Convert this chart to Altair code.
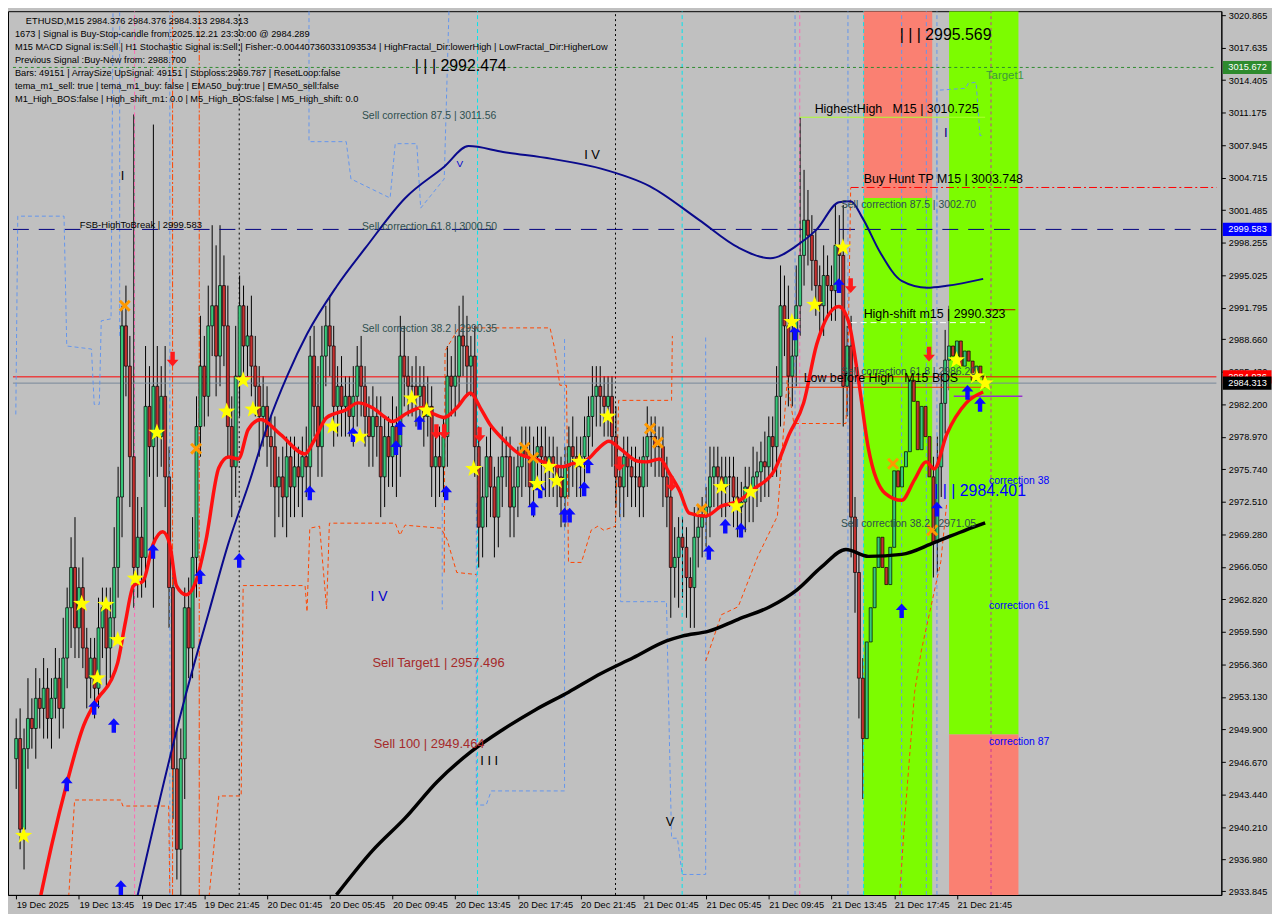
import altair as alt
import pandas as pd

W, H = 1222, 890
X_DOM = [-0.825, 306.2]
Y_DOM = [2933.47, 3021.26]

# ---------------- axis labels ----------------
time_ticks = [0, 16, 32, 48, 64, 80, 96, 112, 128, 144, 160, 176, 192, 208, 224, 240]
time_labels = ["19 Dec 2025", "19 Dec 13:45", "19 Dec 17:45", "19 Dec 21:45", "20 Dec 01:45",
               "20 Dec 05:45", "20 Dec 09:45", "20 Dec 13:45", "20 Dec 17:45", "20 Dec 21:45",
               "21 Dec 01:45", "21 Dec 05:45", "21 Dec 09:45", "21 Dec 13:45", "21 Dec 17:45",
               "21 Dec 21:45"]
price_ticks = [3020.865, 3017.635, 3014.405, 3011.175, 3007.945, 3004.715, 3001.485, 2998.255,
               2995.025, 2991.795, 2988.660, 2985.430, 2982.200, 2978.970, 2975.740, 2972.510,
               2969.280, 2966.050, 2962.820, 2959.590, 2956.360, 2953.130, 2949.900, 2946.670,
               2943.440, 2940.210, 2936.980, 2933.845]

# ---------------- candles (M15 bars) ----------------
first_open = 2947.0
close = [
    2949, 2940, 2948, 2951, 2950, 2953, 2952, 2954, 2951, 2953,
    2955, 2952, 2957, 2962, 2966, 2960, 2964, 2958, 2955, 2957,
    2954, 2960, 2962, 2958, 2961, 2966, 2973, 2990, 2986, 2977,
    2966, 2969, 2967, 2982, 2978, 2984, 2979, 2983, 2975, 2964,
    2946, 2938, 2947, 2962, 2958, 2967, 2980, 2986, 2983, 2990,
    2992, 2987, 2994, 2990, 2980, 2976, 2985, 2992, 2988, 2989,
    2986, 2984, 2981, 2982, 2979, 2978, 2974, 2975, 2973, 2977,
    2974, 2976, 2975, 2977, 2976, 2987, 2982, 2978, 2987, 2990,
    2988, 2982, 2984, 2982, 2983, 2981, 2983, 2986, 2984, 2981,
    2979, 2981, 2980, 2975, 2979, 2977, 2980, 2978, 2987, 2985,
    2984, 2984, 2983, 2984, 2981, 2982, 2976, 2977, 2976, 2979,
    2985, 2984, 2985, 2989, 2988, 2986, 2987, 2978, 2970, 2973,
    2977, 2974, 2971, 2975, 2977, 2977, 2972, 2974, 2976, 2978,
    2977, 2974, 2977, 2978, 2977, 2976, 2977, 2976, 2975, 2973,
    2976, 2978, 2977, 2976, 2977, 2979, 2981, 2983, 2984, 2983,
    2982, 2983, 2979, 2975, 2974, 2977, 2976, 2975, 2975, 2974,
    2977, 2979, 2979, 2978, 2978, 2975, 2973, 2966, 2967, 2969,
    2968, 2965, 2964, 2969, 2970, 2971, 2972, 2975, 2976, 2975,
    2974, 2975, 2975, 2973, 2972, 2972.5, 2974, 2973.5, 2975, 2975.5,
    2976.5, 2976, 2979, 2978, 2983, 2992, 2990, 2985, 2987, 2992,
    2997, 3000.5, 2999, 2996.5, 2994, 2992, 2995, 2994, 2993.5, 2998,
    2997, 2984, 2988, 2971, 2965.5, 2955, 2949, 2958.6, 2962, 2966,
    2969, 2966, 2964.3, 2968, 2975.6, 2974, 2976, 2977.5, 2984.6, 2982.5,
    2977.7, 2982, 2979, 2975, 2968.5, 2976, 2982.3, 2986.6, 2988, 2987,
    2988.5, 2986, 2987.5, 2986.5, 2984.6, 2986, 2985, 2984.313,
]
upper_wick = [
    2, 3, 2, 4, 2, 3, 2, 3, 2, 2,
    3, 2, 4, 2, 3, 5, 2, 3, 2, 2,
    2, 3, 2, 2, 3, 4, 3, 2, 4, 3,
    34, 4, 3, 6, 4, 26, 4, 3, 5, 3,
    2, 4, 3, 2, 3, 4, 3, 5, 3, 4,
    8, 6, 6, 3, 4, 3, 5, 3, 2, 3,
    4, 3, 2, 3, 2, 2, 3, 2, 3, 2,
    2, 3, 2, 2, 3, 2, 3, 4, 3, 2,
    3, 2, 2, 3, 2, 2, 3, 2, 3, 2,
    2, 3, 2, 3, 2, 2, 3, 2, 4, 3,
    2, 2, 3, 2, 2, 3, 2, 2, 3, 2,
    3, 2, 4, 3, 4, 3, 2, 3, 2, 3,
    2, 3, 2, 2, 3, 2, 2, 3, 2, 2,
    2, 3, 2, 2, 2, 3, 2, 2, 2, 2,
    2, 2, 3, 2, 2, 2, 2, 3, 2, 2,
    2, 2, 2, 3, 2, 2, 2, 2, 3, 2,
    2, 3, 2, 2, 2, 2, 2, 2, 3, 2,
    2, 2, 2, 3, 2, 2, 2, 3, 2, 2,
    2, 2, 2, 2, 2, 2, 2, 2, 3, 2,
    2, 3, 2, 2, 3, 4, 3, 4, 3, 4,
    13.7, 5, 3, 2, 3, 2, 3, 2, 2, 4,
    3, 5, 2, 3, 2, 2, 2, 3, 2, 3,
    3, 3, 2, 3, 4, 3, 3, 4, 3, 2,
    2, 3, 2, 3, 2, 3, 3, 3, 4, 3,
    4, 3, 3, 2, 3, 2, 2, 0.1,
]
lower_wick = [
    3, 2, 4, 2, 2, 3, 2, 3, 2, 3,
    2, 3, 2, 3, 4, 3, 3, 2, 3, 2,
    3, 2, 3, 4, 3, 2, 3, 4, 3, 5,
    4, 3, 4, 3, 3, 16, 4, 3, 3, 4,
    5, 3, 5, 4, 3, 3, 4, 3, 3, 2,
    3, 4, 3, 4, 3, 5, 3, 4, 3, 3,
    3, 3, 4, 3, 3, 4, 5, 3, 3, 4,
    3, 3, 3, 4, 3, 3, 3, 3, 3, 3,
    3, 4, 3, 3, 3, 2, 3, 3, 3, 3,
    3, 3, 3, 4, 3, 3, 3, 5, 3, 3,
    3, 3, 3, 3, 3, 2, 3, 4, 3, 3,
    3, 3, 3, 3, 3, 3, 3, 3, 4, 3,
    3, 3, 4, 3, 3, 3, 3, 3, 3, 3,
    3, 2, 3, 3, 3, 3, 3, 3, 3, 3,
    3, 3, 3, 3, 3, 3, 3, 3, 3, 3,
    3, 3, 3, 3, 3, 3, 3, 3, 3, 3,
    3, 3, 3, 3, 3, 3, 3, 5, 3, 5,
    5, 4, 4, 4, 3, 3, 3, 3, 3, 3,
    3, 3, 3, 3, 3, 3, 3, 3, 3, 3,
    3, 3, 3, 3, 3, 3, 3, 3, 3, 3,
    3, 3, 3, 3, 3, 3, 3, 3, 3, 3,
    3, 4, 3, 4, 4, 4, 6, 4, 8, 6,
    5, 4, 5, 4, 4, 4, 4, 4, 4, 4,
    4, 4, 4, 4, 3.5, 3, 3, 3, 3, 3,
    3, 3, 3, 3, 3, 3, 3, 0.1,
]

# ---------------- moving averages (bar, price) ----------------
red_bar = [6.2, 9.2, 12.9, 17.2, 20.9, 24.2, 25.9, 27.9, 29.9, 32.4, 34.9, 37.4, 39.2, 40.9, 43.4,
           45.9, 48.4, 51.7, 54.2, 56.7, 59.2, 62.4, 67.4, 73.7, 75.9, 79.2, 84.2, 87.2, 90.9,
           94.2, 95.9, 99.9, 103.4, 105.9, 109.2, 112.4, 115.9, 118.4, 120.9, 124.2, 128.4,
           132.4, 135.9, 139.2, 141.7, 145.9, 148.4, 151.2, 154.2, 158.4, 160.9, 164.2, 166.7,
           169.2, 171.7, 175.9, 179.9, 184.2, 188.4, 193.4, 197.2, 200.9, 204.2, 209.9, 212.4,
           214.9, 217.4, 221.7, 225.9, 229.2, 232.2, 234.2, 237.4, 242.4, 246.7]
red_p = [2933.28, 2938.66, 2944.52, 2950.29, 2953.03, 2954.78, 2956.55, 2960.65, 2964.17, 2964.66,
         2968.27, 2969.55, 2968.27, 2964.17, 2963.29, 2964.66, 2968.66, 2975.90, 2976.97, 2976.78,
         2979.71, 2980.69, 2979.22, 2977.27, 2978.54, 2980.89, 2981.67, 2982.35, 2981.86, 2980.89,
         2980.49, 2981.37, 2981.86, 2981.37, 2980.89, 2981.86, 2983.33, 2981.86, 2980.20, 2978.73,
         2977.27, 2976.78, 2976.29, 2976.00, 2976.29, 2976.78, 2977.76, 2978.54, 2977.76, 2976.58,
         2976.49, 2976.78, 2975.31, 2973.65, 2971.40, 2971.11, 2972.09, 2972.58, 2973.85, 2975.61,
         2979.22, 2982.35, 2988.12, 2991.93, 2990.37, 2984.60, 2977.86, 2973.36, 2972.67, 2974.73,
         2976.49, 2975.80, 2979.22, 2982.35, 2983.43]

navy_bar = [30.9, 36.7, 42.9, 49.2, 54.2, 59.2, 64.2, 69.2, 74.2, 81.7, 89.2, 99.2, 109.2, 115.4,
            124.2, 136.7, 149.2, 161.7, 174.2, 184.2, 192.4, 199.2, 204.2, 209.9, 212.9, 215.9,
            220.4, 225.9, 232.4, 237.4, 246.7]
navy_p = [2933.28, 2943.06, 2952.83, 2961.63, 2968.47, 2974.14, 2980.20, 2985.09, 2989.19, 2993.89,
          2997.79, 3002.68, 3005.81, 3007.86, 3007.28, 3006.59, 3005.62, 3003.86, 3000.53, 2997.79,
          2996.72, 2997.99, 2999.56, 3002.29, 3002.39, 3000.73, 2997.31, 2994.47, 2993.79, 2993.98,
          2994.67]

black_bar = [81.7, 90.9, 99.2, 107.4, 115.9, 124.2, 132.4, 140.9, 149.2, 157.4, 165.9, 169.9, 176.7,
             184.2, 192.4, 199.2, 205.4, 211.7, 217.4, 225.9, 234.2, 242.4, 247.2]
black_p = [2933.47, 2937.87, 2941.10, 2944.72, 2947.65, 2949.90, 2951.85, 2953.61, 2955.47, 2957.03,
           2958.70, 2959.18, 2959.67, 2960.85, 2962.12, 2963.78, 2966.03, 2967.79, 2967.10, 2967.30,
           2968.47, 2969.74, 2970.43]

# ---------------- dashed step lines (bar, price) ----------------
step_lines = [
    ("#6495ed", [-0.1, 0.4, 12.2, 12.9, 19.2, 19.9, 21.2, 21.7, 24.2, 24.7],
                [2981.2, 3000.9, 3000.9, 2988.0, 2987.7, 2982.2, 2982.2, 2990.5, 2990.7, 3021.2]),
    ("#6495ed", [74.7, 74.7, 84.2, 85.4, 95.4, 96.7, 102.2, 103.2, 109.2, 110.4],
                [3021.26, 3008.3, 3008.3, 3004.6, 3002.7, 3008.1, 3008.1, 3001.7, 3004.6, 3021.26]),
    ("#6495ed", [108.7, 108.7], [2972.4, 2961.8]),
    ("#6495ed", [117.4, 117.4, 119.9, 121.2, 139.9, 139.9],
                [2972.4, 2942.4, 2942.4, 2943.8, 2943.8, 2988.9]),
    ("#6495ed", [154.2, 154.2, 165.9, 166.7, 167.2, 168.7, 169.9, 175.9, 175.9],
                [2972.4, 2962.6, 2962.6, 2947.9, 2939.1, 2939.1, 2935.5, 2935.5, 2988.9]),
    ("#6495ed", [234.9, 234.9, 242.2, 242.9, 244.9, 245.4, 245.9, 246.9],
                [2998.5, 3013.4, 3013.6, 3014.1, 3014.2, 3011.5, 3008.9, 3008.9]),
    ("#ff4500", [13.4, 14.9, 26.7, 27.2, 38.9, 39.2],
                [2933.3, 2942.9, 2942.9, 2942.3, 2942.3, 2933.3]),
    ("#ff4500", [49.2, 51.7, 57.4, 57.9, 73.7, 74.2, 74.9, 77.4, 79.2, 79.9, 96.7, 97.9, 99.2,
                 108.4, 109.9, 112.4, 117.4],
                [2933.3, 2943.3, 2943.3, 2964.2, 2964.2, 2961.6, 2969.9, 2970.1, 2961.9, 2970.4,
                 2970.4, 2969.2, 2970.2, 2969.9, 2968.8, 2965.5, 2965.3]),
    ("#ff4500", [109.2, 109.4, 112.9, 136.2, 137.4, 138.7, 140.4, 140.9, 144.2, 146.7, 148.4,
                 149.9, 152.9, 153.7, 167.2, 167.4],
                [2965.5, 2987.5, 2989.8, 2989.8, 2987.7, 2984.1, 2984.1, 2966.5, 2966.5, 2969.7,
                 2970.1, 2969.7, 2970.1, 2982.6, 2982.6, 2989.0]),
    ("#ff4500", [175.9, 179.9, 184.2, 189.2, 194.2, 196.7, 198.4, 211.7, 212.2, 212.9],
                [2956.7, 2961.3, 2962.1, 2967.1, 2971.1, 2984.6, 2980.3, 2980.3, 2986.4, 3003.7]),
    ("#ff4500", [225.4, 226.7, 229.2, 230.9, 235.9, 237.4],
                [2933.5, 2941.1, 2953.6, 2957.7, 2966.6, 2972.4]),
]

# ---------------- vertical marker lines ----------------
vlines = [  # bar, low, high, colour, dash
    (26.4, 2989.0, 3021.26, "#6495ed", [4, 3]),
    (30.2, 2933.47, 3021.26, "#ff69b4", [4, 3]),
    (39.2, 2933.47, 3021.26, "#6495ed", [4, 3]),
    (39.9, 2933.47, 3021.26, "#ff4500", [6, 2, 2, 2]),
    (46.7, 2933.47, 3021.26, "#ff4500", [6, 2, 2, 2]),
    (56.9, 2933.47, 3021.26, "#000000", [2, 3]),
    (117.7, 2933.47, 3021.26, "#00e5ee", [4, 3]),
    (152.9, 2933.47, 3021.26, "#000000", [2, 3]),
    (169.9, 2933.47, 3021.26, "#00e5ee", [4, 3]),
    (198.7, 2933.47, 3021.26, "#6495ed", [4, 3]),
    (199.9, 2933.47, 3021.26, "#ff69b4", [4, 3]),
    (212.2, 2933.47, 3021.26, "#6495ed", [4, 3]),
    (216.2, 2933.47, 3021.26, "#00e5ee", [4, 3]),
    (225.9, 2933.47, 3021.26, "#6495ed", [4, 3]),
    (232.2, 2933.47, 3021.26, "#6495ed", [4, 3]),
    (234.9, 2933.47, 3021.26, "#6495ed", [4, 3]),
    (248.7, 2933.47, 3021.26, "#cc3399", [3, 3]),
]

# ---------------- horizontal levels ----------------
hlines = [  # price, bar from, bar to, colour, dash, width
    (3015.672, -0.825, 306.2, "#2e8b2e", [3, 3], 1),
    (2999.583, -0.825, 306.2, "#000080", [16, 10], 1),
    (3003.748, 212.9, 306.2, "#ff0000", [8, 3, 2, 3], 1),
    (2990.323, 212.9, 247.2, "#ffffff", [6, 4], 1),
    (3010.725, 199.9, 247.2, "#adff2f", [], 1),
    (2984.936, -0.825, 306.2, "#ff0000", [], 1),
    (2984.313, -0.825, 306.2, "#778899", [], 1),
    (2983.900, 196.7, 247.2, "#ff3300", [], 1),
    (2983.000, 239.2, 256.7, "#9932cc", [], 1.5),
    (2991.600, 247.4, 254.9, "#cc0000", [], 1),
]

# ---------------- zones ----------------
zones = [  # bar from, bar to, price low, price high, colour
    (216.2, 233.7, 3002.7, 3021.26, "#fa8072"),
    (216.2, 233.7, 2933.47, 3002.7, "#7cfc00"),
    (238.0, 255.7, 2949.4, 3021.26, "#7cfc00"),
    (238.0, 255.7, 2933.47, 2949.4, "#fa8072"),
]

# ---------------- signal markers ----------------
star_bar = [1.9, 16.7, 22.9, 20.7, 25.9, 30.4, 35.9, 53.7, 57.9, 60.4, 80.7, 87.7, 100.9, 104.7,
            116.7, 132.9, 135.9, 137.9, 143.7, 150.9, 179.9, 183.7, 187.4, 197.9, 203.7, 210.9,
            239.9, 244.9, 247.2]
star_p = [2939.35, 2962.4, 2962.3, 2955.0, 2958.8, 2964.9, 2979.4, 2981.5, 2984.6, 2981.7, 2980.0,
          2979.0, 2982.8, 2981.6, 2975.8, 2974.3, 2976.0, 2974.6, 2976.5, 2981.0, 2974.0, 2972.1,
          2973.5, 2990.4, 2992.1, 2997.8, 2986.6, 2985.0, 2984.3]
up_bar = [12.9, 19.9, 24.9, 34.9, 46.9, 56.9, 26.7, 74.9, 85.9, 96.9, 97.9, 102.9, 109.7, 131.9,
          133.7, 139.9, 141.2, 144.9, 145.9, 176.7, 180.9, 184.9, 198.7, 209.9, 225.9, 234.9,
          242.7, 245.9]
up_p = [2944.5, 2952.1, 2950.3, 2967.6, 2965.1, 2966.7, 2934.2, 2973.4, 2979.2, 2977.9, 2979.9,
        2980.4, 2973.4, 2971.9, 2973.6, 2971.2, 2971.2, 2973.8, 2976.1, 2967.5, 2970.1, 2969.7,
        2989.3, 2994.0, 2961.7, 2971.8, 2983.4, 2982.2]
x_bar = [27.7, 45.9, 129.7, 131.9, 161.7, 163.7, 174.9, 223.7, 233.7]
x_p = [2992.0, 2977.8, 2977.9, 2976.9, 2979.8, 2978.4, 2971.8, 2976.3, 2969.7]
dn_bar = [39.9, 107.2, 109.2, 118.2, 153.9, 167.2, 212.9, 232.9]
dn_p = [2986.7, 2979.5, 2979.5, 2979.2, 2976.3, 2974.3, 2994.0, 2987.2]

# ---------------- chart annotations ----------------
NB = "\u00a0"
ann = [  # text, bar, price, size, colour
    ("FSB-HighToBreak | 2999.583", 16.2, 3000.05, 9.5, "#000000"),
    ("Sell correction 87.5 | 3011.56", 88.2, 3010.8, 10.5, "#2f4f4f"),
    ("Sell correction 61.8 | 3000.50", 88.2, 2999.8, 10.5, "#2f4f4f"),
    ("Sell correction 38.2 | 2990.35", 88.2, 2989.7, 10.5, "#2f4f4f"),
    ("Sell correction 87.5 | 3002.70", 210.4, 3002.0, 10.5, "#2f4f4f"),
    ("Sell correction 61.8 | 2986.20", 210.4, 2985.4, 10.5, "#2f4f4f"),
    ("Sell correction 38.2 | 2971.05", 210.4, 2970.3, 10.5, "#2f4f4f"),
    ("HighestHigh" + NB * 3 + "M15 | 3010.725", 203.7, 3011.5, 12.5, "#000000"),
    ("Buy Hunt TP M15 | 3003.748", 216.2, 3004.6, 12.5, "#000000"),
    ("High-shift m15 | 2990.323", 216.2, 2991.2, 12.5, "#000000"),
    ("Low before High" + NB * 3 + "M15 BOS", 200.9, 2984.8, 12.5, "#000000"),
    ("Sell Target1 | 2957.496", 90.9, 2956.5, 13, "#a52a2a"),
    ("Sell 100 | 2949.464", 91.2, 2948.5, 13, "#a52a2a"),
    ("| | | 2992.474", 101.7, 3015.8, 16, "#000000"),
    ("| | | 2995.569", 225.4, 3018.9, 16, "#000000"),
    ("| | | 2984.401", 234.2, 2973.6, 16, "#0000ff"),
    ("correction 38", 248.2, 2974.6, 10.5, "#0000ff"),
    ("correction 61", 248.2, 2962.2, 10.5, "#0000ff"),
    ("correction 87", 248.2, 2948.7, 10.5, "#0000ff"),
    ("Target1", 247.4, 3014.8, 11.5, "#3c9a3c"),
    ("I V", 144.9, 3007.0, 13, "#000000"),
    ("I I I", 118.4, 2946.8, 13, "#000000"),
    ("V", 165.7, 2940.7, 13, "#000000"),
    ("V", 112.3, 3006.1, 10, "#0000cd"),
    ("I", 26.7, 3004.9, 13, "#000000"),
    ("I", 236.7, 3009.2, 13, "#000080"),
    ("I V", 90.4, 2963.1, 14, "#0000cd"),
]

header = [
    "ETHUSD,M15  2984.376 2984.376 2984.313 2984.313",
    "1673 | Signal is Buy-Stop-candle from:2025.12.21 23:30:00 @ 2984.289",
    "M15 MACD Signal is:Sell | H1 Stochastic Signal is:Sell | Fisher:-0.004407360331093534 | HighFractal_Dir:lowerHigh | LowFractal_Dir:HigherLow",
    "Previous Signal :Buy-New from: 2988.700",
    "Bars: 49151 | ArraySize UpSignal: 49151 | Stoploss:2969.787 | ResetLoop:false",
    "tema_m1_sell: true | tema_m1_buy: false | EMA50_buy:true | EMA50_sell:false",
    "M1_High_BOS:false | High_shift_m1: 0.0 | M5_High_BOS:false | M5_High_shift: 0.0",
]

price_boxes = [  # price, background
    (3015.672, "#2e8b2e"),
    (2999.583, "#0000ff"),
    (2984.936, "#ff0000"),
    (2984.313, "#000000"),
]

# =====================================================================
xs = alt.Scale(domain=X_DOM, nice=False, zero=False)
ys = alt.Scale(domain=Y_DOM, nice=False, zero=False)

x_axis = alt.Axis(values=time_ticks, labelAlign="left", tickSize=4, labelPadding=2,
                  labelExpr="[" + ",".join("'" + s + "'" for s in time_labels) + "][round(datum.value/16)]",
                  domainColor="black", tickColor="black", labelColor="black", grid=False,
                  labelFont="Liberation Sans", labelFontSize=9.3, title=None, labelFlush=False,
                  labelOverlap=False)
y_axis = alt.Axis(orient="right", values=price_ticks, format=".3f", tickSize=4, labelPadding=3,
                  domainColor="black", tickColor="black", labelColor="black", grid=False,
                  labelFont="Liberation Sans", labelFontSize=9.3, title=None, labelFlush=False,
                  labelOverlap=False)


def X(field="bar"):
    return alt.X(f"{field}:Q", scale=xs, axis=x_axis, title=None)


def Y(field="p"):
    return alt.Y(f"{field}:Q", scale=ys, axis=y_axis, title=None)


layers = []

# zones
zdf = pd.DataFrame(zones, columns=["b0", "b1", "p0", "p1", "c"])
layers.append(alt.Chart(zdf).mark_rect(clip=True).encode(
    x=X("b0"), x2="b1:Q", y=Y("p0"), y2="p1:Q",
    color=alt.Color("c:N", scale=None)))

# vertical lines
for b, lo, hi, col, dash in vlines:
    d = pd.DataFrame({"bar": [b], "lo": [lo], "hi": [hi]})
    kw = dict(color=col, strokeWidth=1, clip=True)
    if dash:
        kw["strokeDash"] = dash
    layers.append(alt.Chart(d).mark_rule(**kw).encode(x=X(), y=Y("lo"), y2="hi:Q"))

# horizontal levels
for p, b0, b1, col, dash, w in hlines:
    d = pd.DataFrame({"p": [p], "b0": [b0], "b1": [b1]})
    kw = dict(color=col, strokeWidth=w, clip=True)
    if dash:
        kw["strokeDash"] = dash
    layers.append(alt.Chart(d).mark_rule(**kw).encode(x=X("b0"), x2="b1:Q", y=Y()))

# step lines
for col, bars, prices in step_lines:
    d = pd.DataFrame({"bar": bars, "p": prices, "k": list(range(len(bars)))})
    layers.append(alt.Chart(d).mark_line(color=col, strokeWidth=1, strokeDash=[4, 3], clip=True)
                  .encode(x=X(), y=Y(), order="k:Q"))

# candles
rows = []
prev = first_open
for i, c in enumerate(close):
    o = prev
    rows.append(dict(bar=i, open=o, close=c,
                     high=max(o, c) + upper_wick[i], low=min(o, c) - lower_wick[i],
                     dir="up" if c >= o else "down"))
    prev = c
cdf = pd.DataFrame(rows)

wicks = alt.Chart(cdf).mark_rule(color="black", strokeWidth=1, clip=True).encode(
    x=X(), y=Y("low"), y2="high:Q")
bodies = alt.Chart(cdf).mark_bar(size=3, stroke="black", strokeWidth=0.7, clip=True).encode(
    x=X(), y=Y("open"), y2="close:Q",
    color=alt.Color("dir:N", scale=alt.Scale(domain=["up", "down"], range=["#36c87a", "#c4302f"]),
                    legend=None))
layers = [wicks] + layers + [bodies]

# moving averages
for bars, prices, col, w in [(black_bar, black_p, "#000000", 3.5),
                             (navy_bar, navy_p, "#0a0a8c", 2),
                             (red_bar, red_p, "#ff1010", 3.5)]:
    d = pd.DataFrame({"bar": bars, "p": prices, "k": list(range(len(bars)))})
    layers.append(alt.Chart(d).mark_line(color=col, strokeWidth=w, clip=True, interpolate="monotone")
                  .encode(x=X(), y=Y(), order="k:Q"))

# markers
STAR = ("M0,-1L0.235,-0.324L0.951,-0.309L0.38,0.124L0.588,0.809L0,0.4L-0.588,0.809"
        "L-0.38,0.124L-0.951,-0.309L-0.235,-0.324Z")
UP = "M0,-1L0.8,-0.1L0.3,-0.1L0.3,1L-0.3,1L-0.3,-0.1L-0.8,-0.1Z"
DOWN = "M0,1L0.8,0.1L0.3,0.1L0.3,-1L-0.3,-1L-0.3,0.1L-0.8,0.1Z"
XS = "M-1,-1L1,1M1,-1L-1,1"

layers.append(alt.Chart(pd.DataFrame({"bar": up_bar, "p": up_p})).mark_point(
    shape=UP, size=220, filled=True, color="#0a0aff", opacity=1, clip=True).encode(x=X(), y=Y()))
layers.append(alt.Chart(pd.DataFrame({"bar": dn_bar, "p": dn_p})).mark_point(
    shape=DOWN, size=220, filled=True, color="#ff1a1a", opacity=1, clip=True).encode(x=X(), y=Y()))
layers.append(alt.Chart(pd.DataFrame({"bar": x_bar, "p": x_p})).mark_point(
    shape=XS, size=100, filled=False, strokeWidth=3, color="#ff9900", opacity=1, clip=True)
    .encode(x=X(), y=Y()))
layers.append(alt.Chart(pd.DataFrame({"bar": star_bar, "p": star_p})).mark_point(
    shape=STAR, size=330, filled=True, color="#ffff00", opacity=1, clip=True).encode(x=X(), y=Y()))

# annotations
for t, b, p, s, col in ann:
    d = pd.DataFrame({"t": [t], "bar": [b], "p": [p]})
    layers.append(alt.Chart(d).mark_text(align="left", baseline="middle", font="Liberation Sans",
                                         fontSize=s, color=col).encode(x=X(), y=Y(), text="t:N"))

# header lines
for i, line in enumerate(header):
    d = pd.DataFrame({"t": [line]})
    layers.append(alt.Chart(d).mark_text(align="left", baseline="middle", font="Liberation Sans",
                                         fontSize=9.3, color="black")
                  .encode(x=alt.value(18 if i == 0 else 7), y=alt.value(10 + 13 * i), text="t:N"))

# price boxes on the right axis
BOX = "M-1,-0.27L1,-0.27L1,0.27L-1,0.27Z"
for p, bg in price_boxes:
    d = pd.DataFrame({"p": [p], "t": [f"{p:.3f}"]})
    layers.append(alt.Chart(d).mark_point(shape=BOX, size=2400, filled=True, color=bg, opacity=1)
                  .encode(x=alt.value(W + 26), y=Y()))
    layers.append(alt.Chart(d).mark_text(align="left", baseline="middle", font="Liberation Sans",
                                         fontSize=9.3, color="white")
                  .encode(x=alt.value(W + 7), y=Y(), text="t:N"))

chart = alt.layer(*layers).properties(
    width=W, height=H, background="#c0c0c0", padding=0
).configure_view(stroke="black", strokeWidth=1, fill="#c0c0c0")

chart.save("out.html", embed_options={"renderer": "svg", "actions": False})
